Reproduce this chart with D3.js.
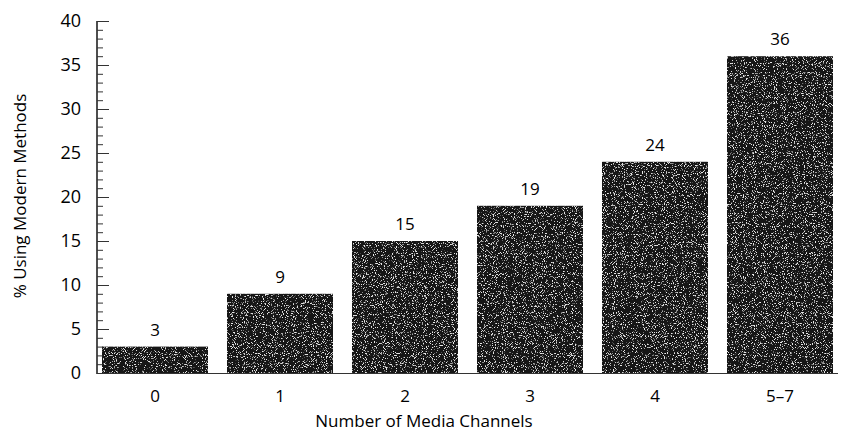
<!DOCTYPE html>
<html>
<head>
<meta charset="utf-8">
<script src="https://cdn.jsdelivr.net/npm/d3@7"></script>
<style>
  html, body { margin: 0; padding: 0; background: #fff; }
  svg { display: block; }
  text { font-family: "Open Sans", "Noto Sans", sans-serif; fill: #000; }
</style>
</head>
<body>
<svg id="chart" width="841" height="436"></svg>
<script>
// Share of respondents using modern methods, by number of media channels
const categories = ["0", "1", "2", "3", "4", "5\u20137"];
const values = [3, 9, 15, 19, 24, 36];
const yTicks = [0, 5, 10, 15, 20, 25, 30, 35, 40];
const xTitle = "Number of Media Channels";
const yTitle = "% Using Modern Methods";

const svg = d3.select("#chart");
const W = 841, H = 436;
const m = { left: 97, right: 3, top: 21, bottom: 63 };
const baseY = H - m.bottom;

const x = d3.scaleBand()
  .domain(categories)
  .range([102, 833])
  .paddingInner(0.152)
  .paddingOuter(0);

const y = d3.scaleLinear()
  .domain([0, 40])
  .range([baseY, m.top]);

// Grainy print texture for the bars
const defs = svg.append("defs");
const f = defs.append("filter").attr("id", "grain")
  .attr("x", 0).attr("y", 0).attr("width", "100%").attr("height", "100%");
f.append("feTurbulence").attr("type", "fractalNoise")
  .attr("baseFrequency", 0.9).attr("numOctaves", 2).attr("seed", 7).attr("result", "noise");
f.append("feColorMatrix").attr("in", "noise").attr("type", "matrix")
  .attr("values", "0 0 0 0 0.8  0 0 0 0 0.8  0 0 0 0 0.8  9 0 0 0 -5.3")
  .attr("result", "specks");
f.append("feComposite").attr("in", "specks").attr("in2", "SourceGraphic")
  .attr("operator", "in").attr("result", "clipped");
const mg = f.append("feMerge");
mg.append("feMergeNode").attr("in", "SourceGraphic");
mg.append("feMergeNode").attr("in", "clipped");

// Baseline
svg.append("line")
  .attr("x1", m.left).attr("x2", 838)
  .attr("y1", baseY + 0.5).attr("y2", baseY + 0.5)
  .attr("stroke", "#333").attr("stroke-width", 1.2);

// Bars
svg.append("g").selectAll("rect")
  .data(values)
  .join("rect")
  .attr("x", (d, i) => x(categories[i]))
  .attr("y", d => y(d))
  .attr("width", x.bandwidth())
  .attr("height", d => baseY - y(d))
  .attr("fill", "#161616")
  .attr("filter", "url(#grain)");

// Value labels
svg.append("g").selectAll("text")
  .data(values)
  .join("text")
  .attr("x", (d, i) => x(categories[i]) + x.bandwidth() / 2)
  .attr("y", d => y(d) - 11)
  .attr("text-anchor", "middle")
  .attr("font-size", 17)
  .text(d => d);

// Y axis: major ticks every 5, minor ticks every 1, drawn inward
const yAxis = svg.append("g").attr("transform", `translate(${m.left},0)`);
yAxis.append("line")
  .attr("x1", 0).attr("x2", 0)
  .attr("y1", y(40)).attr("y2", baseY + 1)
  .attr("stroke", "#222").attr("stroke-width", 1.6);
yAxis.selectAll("line.minor")
  .data(d3.range(0, 41))
  .join("line")
  .attr("class", "minor")
  .attr("x1", 0)
  .attr("x2", d => d % 5 === 0 ? 12 : 6)
  .attr("y1", d => y(d) + 0.5).attr("y2", d => y(d) + 0.5)
  .attr("stroke", "#333").attr("stroke-width", 1);
yAxis.selectAll("text")
  .data(yTicks)
  .join("text")
  .attr("x", -16)
  .attr("y", d => y(d))
  .attr("dy", "0.35em")
  .attr("text-anchor", "end")
  .attr("font-size", 18)
  .text(d => d);

// Category labels
svg.append("g").selectAll("text")
  .data(categories)
  .join("text")
  .attr("x", d => x(d) + x.bandwidth() / 2)
  .attr("y", baseY + 29)
  .attr("text-anchor", "middle")
  .attr("font-size", 17)
  .text(d => d);

// Axis titles
svg.append("text")
  .attr("x", 424).attr("y", 427)
  .attr("text-anchor", "middle")
  .attr("font-size", 17)
  .text(xTitle);

svg.append("text")
  .attr("transform", `translate(26,196) rotate(-90)`)
  .attr("text-anchor", "middle")
  .attr("font-size", 17)
  .text(yTitle);
</script>
</body>
</html>
